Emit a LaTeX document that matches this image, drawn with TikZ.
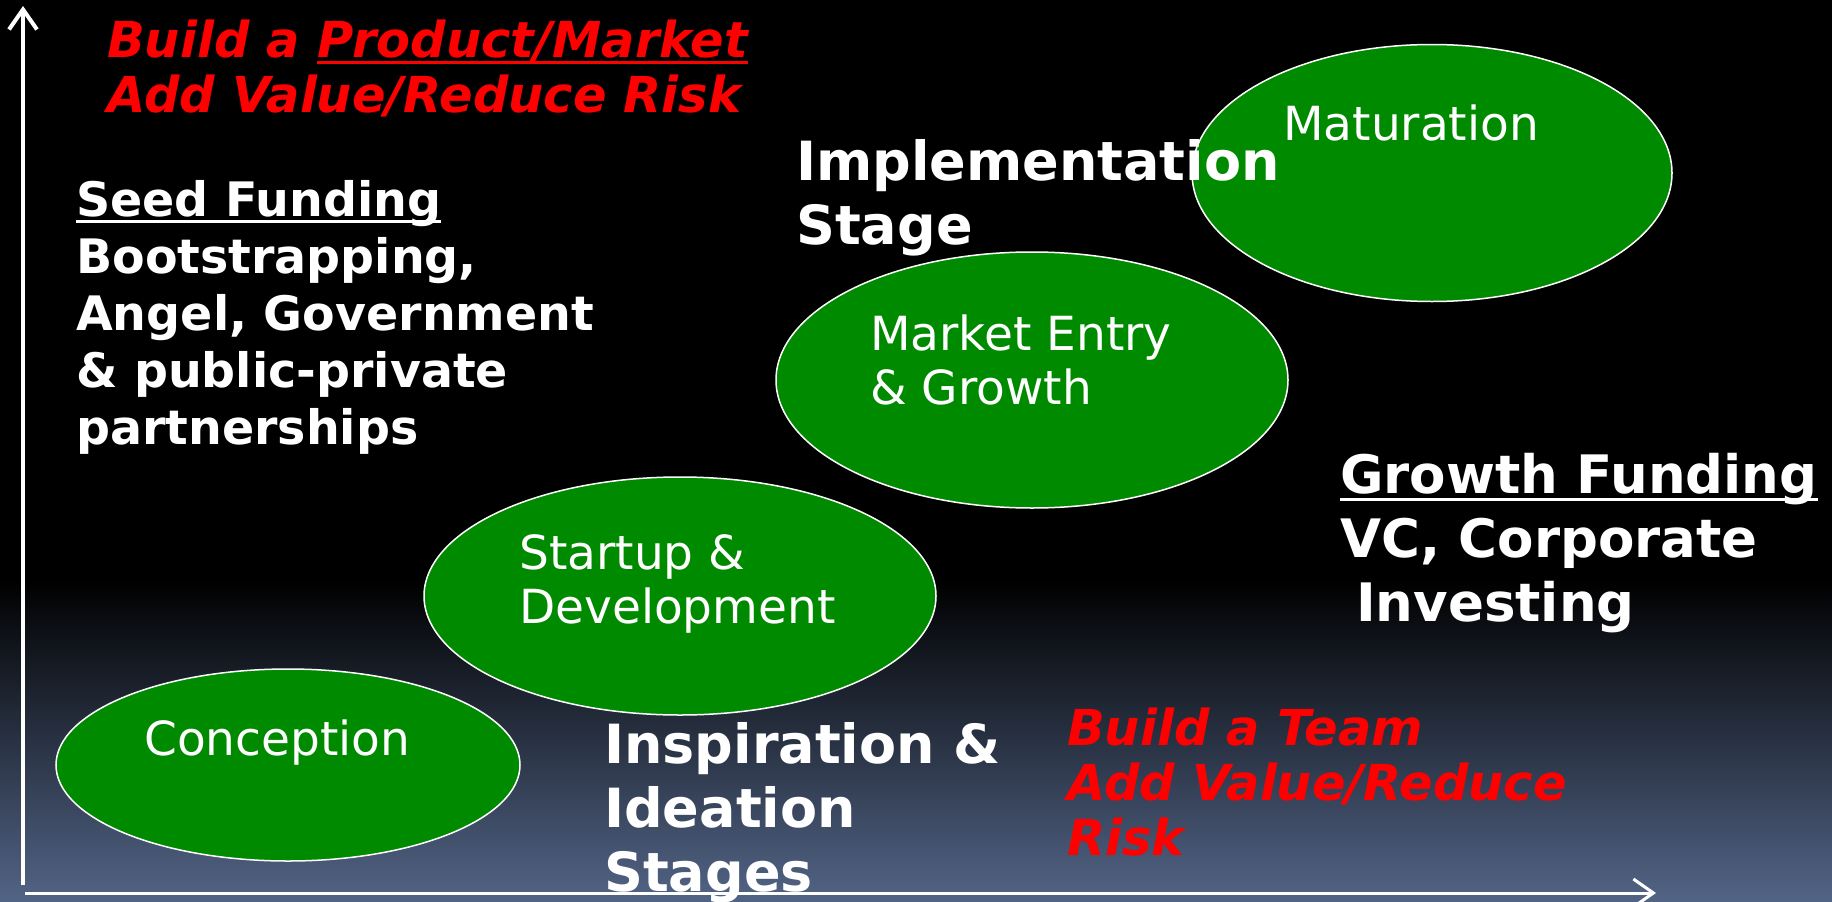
\documentclass[tikz,border=0pt]{standalone}
\usepackage{fontspec}
\setmainfont{DejaVu Sans}
\usetikzlibrary{arrows.meta,shapes.geometric}
\definecolor{stagegreen}{RGB}{0,138,0}
\definecolor{slate}{RGB}{82,100,134}
\tikzset{>={Straight Barb[length=20pt,width=28pt]}}
\tikzstyle{stage}=[ellipse,draw=white,fill=stagegreen,line width=1.5pt,inner sep=0pt,outer sep=0pt]
\tikzstyle{stagetext}=[text=white,font=\fontsize{47}{54}\selectfont,align=left,anchor=west,inner sep=0pt]
\tikzstyle{fundtext}=[text=white,font=\fontsize{47.5}{57}\selectfont\bfseries,align=left,anchor=west,inner sep=0pt]
\tikzstyle{bigtext}=[fundtext,font=\fontsize{54}{64}\selectfont\bfseries]
\tikzstyle{goaltext}=[text=red,font=\fontsize{49.5}{55}\selectfont\bfseries\itshape,align=left,anchor=west,inner sep=0pt]
\tikzstyle{axis}=[->,white,line width=4pt]
\newsavebox{\ulbox}
\newcommand{\ulined}[1]{\sbox{\ulbox}{#1}\rlap{\rule[-0.15em]{\wd\ulbox}{0.07em}}\usebox{\ulbox}}

\begin{document}
\begin{tikzpicture}[x=1pt,y=-1pt]
	\def \W {1832};
	\def \H {902};

	\fill[black] (0,0) rectangle (\W,\H);
	\shade[top color=black,bottom color=slate] (0,580) rectangle (\W,\H);
	\useasboundingbox (0,0) rectangle (\W,\H);

	% stages
	\node[stage,minimum width=464,minimum height=192] (conc) at (288,765) {};
	\node[stage,minimum width=512,minimum height=238] (start) at (680,596) {};
	\node[stage,minimum width=512,minimum height=256] (market) at (1032,380) {};
	\node[stage,minimum width=480,minimum height=257] (mature) at (1432,173) {};

	\node[stagetext] (conct) at (144,743) {Conception};
	\node[stagetext] (startt) at (519,584) {Startup \&\\Development};
	\node[stagetext] (markett) at (870,360) {Market Entry\\\& Growth};
	\node[stagetext] (maturet) at (1283,123) {Maturation};

	% funding and goals
	\node[goaltext] (goal1) at (107,68) {Build a \ulined{Product/Market}\\Add Value/Reduce Risk};
	\node[fundtext] (seed) at (76,317) {\ulined{Seed Funding}\\Bootstrapping,\\Angel, Government\\\& public-private\\partnerships};
	\node[bigtext] (impl) at (796,198) {Implementation\\Stage};
	\node[bigtext,font=\fontsize{53}{64}\selectfont\bfseries] (growth) at (1340,543) {\ulined{Growth Funding}\\VC, Corporate\\\hspace*{0.3em}Investing};
	\node[bigtext] (inspire) at (604,813) {Inspiration \&\\Ideation\\Stages};
	\node[goaltext] (goal2) at (1067,782) {Build a Team\\Add Value/Reduce\\Risk};

	% axes
	\coordinate (ybot) at (23,885);
	\coordinate (ytop) at (23,6);
	\coordinate (xleft) at (25,893);
	\coordinate (xright) at (1656,893);
	\draw[axis] (ybot) -- (ytop);
	\draw[axis,line width=3pt] (xleft) -- (xright);
\end{tikzpicture}
\end{document}
